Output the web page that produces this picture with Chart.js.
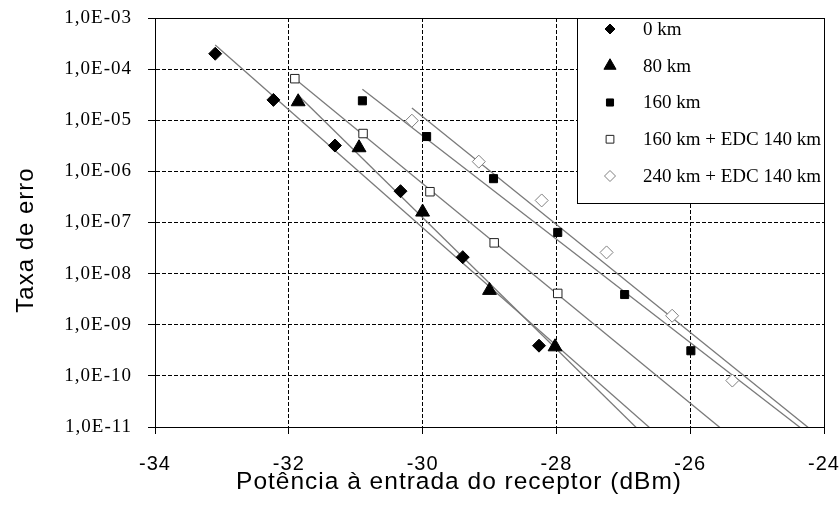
<!DOCTYPE html>
<html>
<head>
<meta charset="utf-8">
<script src="https://cdn.jsdelivr.net/npm/chart.js@4/dist/chart.umd.min.js"></script>
<style>
html,body{margin:0;padding:0;background:#fff;}
#wrap{width:839px;height:514px;position:relative;}
</style>
</head>
<body>
<div id="wrap"><canvas id="c" width="839" height="514"></canvas></div>
<script>
// ---- data ----
const seriesNames = ['0 km', '80 km', '160 km', '160 km + EDC 140 km', '240 km + EDC 140 km'];

const x0km = [-33.1, -32.23, -31.31, -30.33, -29.4, -28.26];
const y0km = [2.0e-4, 2.5e-5, 3.2e-6, 4.1e-7, 2.1e-8, 3.9e-10];

const x80km = [-31.86, -30.95, -30.0, -29.0, -28.02];
const y80km = [2.3e-5, 2.9e-6, 1.6e-7, 4.7e-9, 3.7e-10];

const x160km = [-30.9, -29.94, -28.94, -27.98, -26.98, -25.99];
const y160km = [2.4e-5, 4.8e-6, 7.2e-7, 6.4e-8, 3.9e-9, 3.1e-10];

const x160edc = [-31.91, -30.89, -29.89, -28.93, -27.98];
const y160edc = [6.5e-5, 5.5e-6, 4.0e-7, 4.0e-8, 4.1e-9];

const x240edc = [-30.16, -29.16, -28.22, -27.25, -26.27, -25.37];
const y240edc = [9.8e-6, 1.55e-6, 2.7e-7, 2.6e-8, 1.5e-9, 8.1e-11];

const xTickValues = [-34, -32, -30, -28, -26, -24];
const xTickLabels = ['-34', '-32', '-30', '-28', '-26', '-24'];
const yTickValues = [1e-11, 1e-10, 1e-9, 1e-8, 1e-7, 1e-6, 1e-5, 1e-4, 1e-3];
const yTickLabels = ['1,0E-11', '1,0E-10', '1,0E-09', '1,0E-08', '1,0E-07', '1,0E-06', '1,0E-05', '1,0E-04', '1,0E-03'];

const xTitle = 'Potência à entrada do receptor (dBm)';
const yTitle = 'Taxa de erro';

// ---- exponential trend line (least squares on log10 y) ----
function expFit(xs, ys) {
  const n = xs.length;
  const ly = ys.map(v => Math.log10(v));
  const mx = xs.reduce((a, b) => a + b, 0) / n;
  const my = ly.reduce((a, b) => a + b, 0) / n;
  let sxy = 0, sxx = 0;
  for (let i = 0; i < n; i++) { sxy += (xs[i] - mx) * (ly[i] - my); sxx += (xs[i] - mx) * (xs[i] - mx); }
  const b = sxy / sxx, a = my - b * mx;
  return x => Math.pow(10, a + b * x);
}

const seriesX = [x0km, x80km, x160km, x160edc, x240edc];
const seriesY = [y0km, y80km, y160km, y160edc, y240edc];
const styles = [
  {pointStyle: 'rectRot', radius: 6.5, legendRadius: 5, bg: '#000', border: '#000', bw: 1},
  {pointStyle: 'triangle', radius: 8, legendRadius: 7, bg: '#000', border: '#000', bw: 1},
  {pointStyle: 'rect', radius: 5.7, legendRadius: 5, bg: '#000', border: '#000', bw: 1},
  {pointStyle: 'rect', radius: 6, legendRadius: 5.5, bg: '#fff', border: '#222', bw: 1},
  {pointStyle: 'rectRot', radius: 6.5, legendRadius: 5.5, bg: '#fff', border: '#808080', bw: 1}
];

const xMax = xTickValues[xTickValues.length - 1];
const datasets = [];
seriesNames.forEach((name, i) => {
  const s = styles[i];
  datasets.push({
    label: name,
    data: seriesX[i].map((x, j) => ({x: x, y: seriesY[i][j]})),
    showLine: false,
    pointStyle: s.pointStyle,
    pointRadius: s.radius,
    pointHoverRadius: s.radius,
    backgroundColor: s.bg,
    borderColor: s.border,
    borderWidth: s.bw,
    order: 0,
    isSeries: true,
    legendRadius: s.legendRadius
  });
});
seriesNames.forEach((name, i) => {
  const f = expFit(seriesX[i], seriesY[i]);
  const xmin = Math.min(...seriesX[i]);
  datasets.push({
    label: name + ' (trend)',
    data: [{x: xmin, y: f(xmin)}, {x: xMax, y: f(xMax)}],
    showLine: true,
    pointRadius: 0,
    borderColor: '#7a7a7a',
    borderWidth: 1.3,
    fill: false,
    order: 1
  });
});

const spacingPlugin = {
  id: 'spacing',
  beforeDraw(chart) { chart.ctx.letterSpacing = '1px'; }
};

const framePlugin = {
  id: 'frameLegendTitles',
  afterDraw(chart) {
    const ctx = chart.ctx;
    const ca = chart.chartArea;
    ctx.save();
    // plot frame
    ctx.strokeStyle = '#000';
    ctx.lineWidth = 1;
    ctx.setLineDash([]);
    ctx.strokeRect(Math.round(ca.left) + 0.5, Math.round(ca.top) + 0.5, Math.round(ca.right - ca.left), Math.round(ca.bottom - ca.top));

    // legend box
    const lw = 247, lh = 185;
    const lx = Math.round(ca.right) - lw, ly = Math.round(ca.top);
    ctx.fillStyle = '#fff';
    ctx.fillRect(lx + 0.5, ly + 0.5, lw, lh);
    ctx.strokeRect(lx + 0.5, ly + 0.5, lw, lh);
    ctx.letterSpacing = '0px';
    ctx.font = '19px "Liberation Serif", "Times New Roman", serif';
    ctx.textBaseline = 'middle';
    ctx.textAlign = 'left';
    const series = chart.data.datasets.filter(d => d.isSeries);
    series.forEach((ds, i) => {
      const ry = ly + 11 + i * 36.75;
      ctx.fillStyle = ds.backgroundColor;
      ctx.strokeStyle = ds.borderColor;
      ctx.lineWidth = ds.borderWidth;
      Chart.helpers.drawPoint(ctx, {pointStyle: ds.pointStyle, radius: ds.legendRadius, borderWidth: ds.borderWidth, rotation: 0}, lx + 33, ry);
      ctx.fillStyle = '#000';
      ctx.fillText(ds.label, lx + 66, ry + 1);
    });

    // axis titles
    ctx.letterSpacing = '1px';
    ctx.fillStyle = '#000';
    ctx.font = '24.5px "Liberation Sans", Arial, sans-serif';
    ctx.textAlign = 'center';
    ctx.textBaseline = 'alphabetic';
    ctx.fillText(xTitle, 459, 489);
    ctx.font = '24px "Liberation Sans", Arial, sans-serif';
    ctx.translate(33, 240);
    ctx.rotate(-Math.PI / 2);
    ctx.fillText(yTitle, 0, 0);
    ctx.restore();
  }
};

new Chart(document.getElementById('c'), {
  type: 'scatter',
  data: {datasets: datasets},
  options: {
    responsive: false,
    animation: false,
    devicePixelRatio: 1,
    layout: {padding: {top: 18, right: 15, left: 0, bottom: 0}},
    plugins: {legend: {display: false}, tooltip: {enabled: false}},
    scales: {
      x: {
        type: 'linear',
        position: 'bottom',
        min: -34, max: -24,
        afterBuildTicks(s) { s.ticks = xTickValues.map(v => ({value: v})); },
        afterFit(s) { s.height = 87; s.paddingLeft = 0; s.paddingRight = 0; },
        ticks: {
          callback: (v, i) => xTickLabels[i],
          color: '#000',
          font: {family: '"Liberation Sans", Arial, sans-serif', size: 20},
          padding: 18,
          maxRotation: 0,
          autoSkip: false
        },
        grid: {color: '#000', lineWidth: 1, drawTicks: true, tickLength: 7, tickColor: '#000', tickWidth: 1, tickBorderDash: []},
        border: {display: true, color: '#000', width: 1, dash: [4, 2]}
      },
      y: {
        type: 'logarithmic',
        position: 'left',
        min: 1e-11, max: 1e-3,
        afterBuildTicks(s) { s.ticks = yTickValues.map(v => ({value: v})); },
        afterFit(s) { s.width = 155; s.paddingTop = 0; s.paddingBottom = 0; },
        ticks: {
          callback: (v, i) => yTickLabels[i],
          color: '#000',
          font: {family: '"Liberation Serif", "Times New Roman", serif', size: 19},
          padding: 16,
          autoSkip: false
        },
        grid: {color: '#000', lineWidth: 1, drawTicks: true, tickLength: 7, tickColor: '#000', tickWidth: 1, tickBorderDash: []},
        border: {display: true, color: '#000', width: 1, dash: [4, 2]}
      }
    }
  },
  plugins: [spacingPlugin, framePlugin]
});
</script>
</body>
</html>
